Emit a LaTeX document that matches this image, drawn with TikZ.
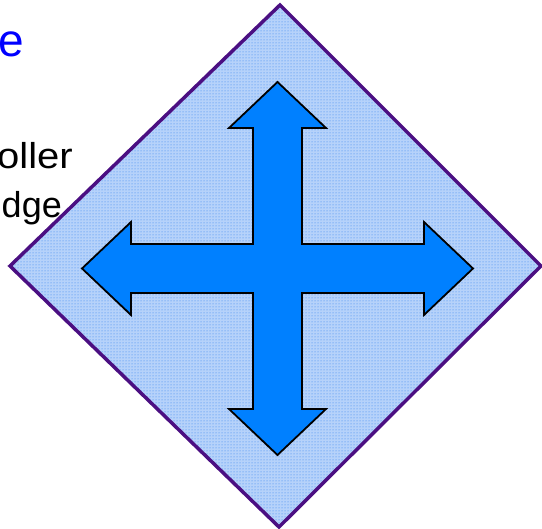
\documentclass[tikz,border=0pt]{standalone}
\usepackage{fontspec}
\setmainfont{Liberation Sans}
\usetikzlibrary{patterns}
\definecolor{dia}{RGB}{75,15,130}
\definecolor{arr}{RGB}{0,128,255}
\definecolor{dotc}{RGB}{45,125,240}
\definecolor{dbase}{RGB}{182,210,250}
\newcommand{\bigtxt}[3]{\scalebox{#1}[#2]{\fontsize{10}{12}\selectfont #3}}
\tikzset{
  lbl/.style={anchor=base east, inner sep=0pt},
  diamondshape/.style={draw=dia, line width=3.5pt, line join=miter, preaction={fill=dbase}, pattern=dots, pattern color=dotc},
  crossarrow/.style={draw=black, line width=1.8pt, fill=arr, line join=miter}
}
\begin{document}
\begin{tikzpicture}[x=1pt,y=-1pt]
\useasboundingbox (0,0) rectangle (542,529);
\node[lbl, text=blue] (head) at (24.5,57) {\bigtxt{4.6}{4.6}{e}};
\node[lbl] (l1) at (73,169) {\bigtxt{4.0}{3.6}{oller}};
\node[lbl] (l2) at (62,218) {\bigtxt{3.6}{3.6}{dge}};
\draw[diamondshape] (280,5) -- (541,266) -- (279,527) -- (10,266) -- cycle;
\draw[crossarrow] (277.5,82) -- (326,128) -- (302,128) -- (302,244) -- (424,244) -- (424,222) -- (473,268.5) -- (424,315) -- (424,293) -- (302,293) -- (302,409) -- (326,409) -- (277.5,455) -- (229,409) -- (253,409) -- (253,293) -- (131,293) -- (131,315) -- (82,268.5) -- (131,222) -- (131,244) -- (253,244) -- (253,128) -- (229,128) -- cycle;
\end{tikzpicture}
\end{document}
